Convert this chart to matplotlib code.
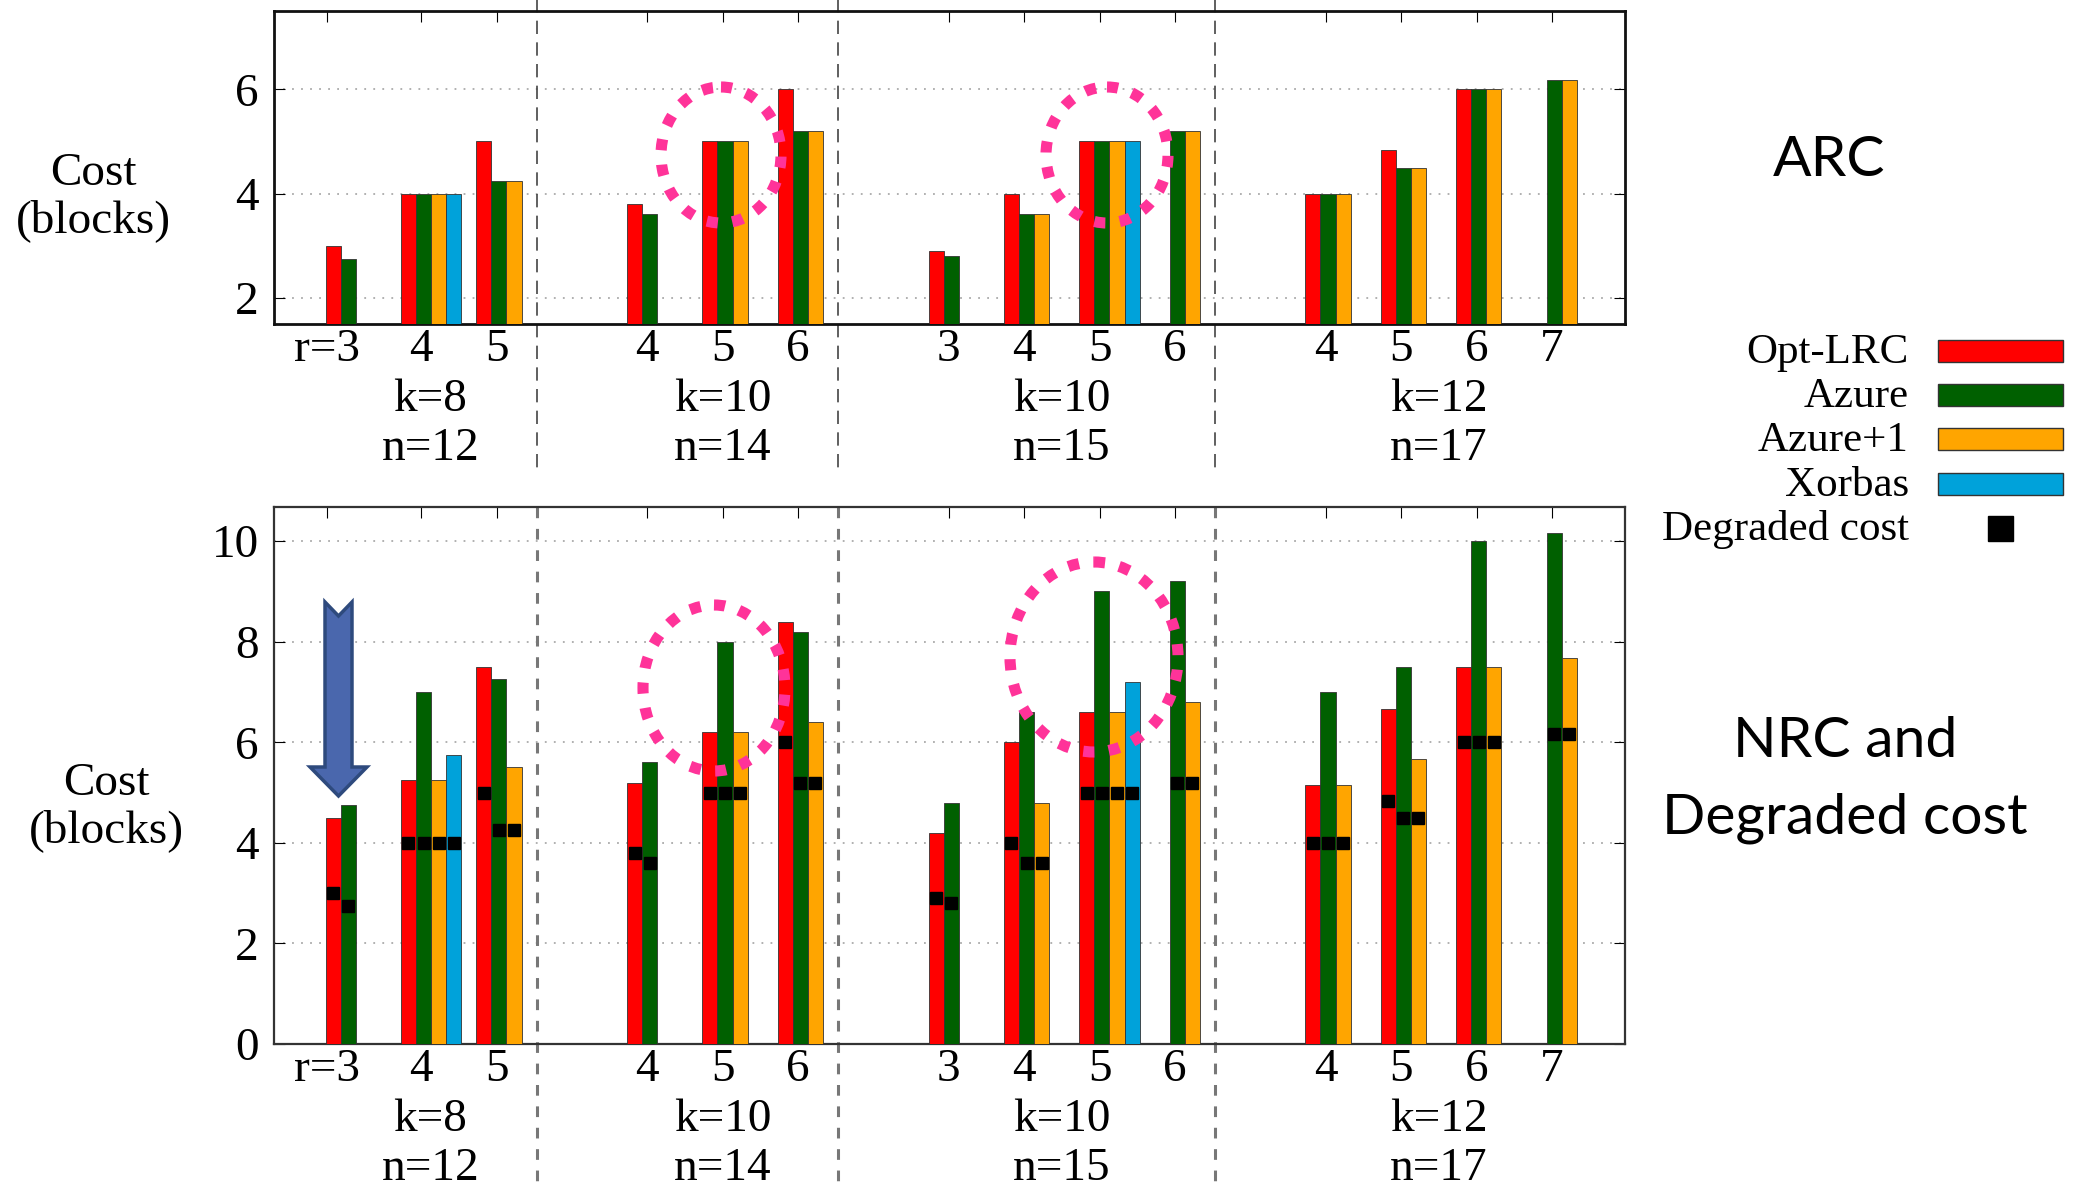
import numpy as np
import matplotlib.pyplot as plt
from matplotlib.patches import Ellipse, Polygon, Rectangle

plt.rcParams['font.family'] = ['Liberation Serif', 'DejaVu Serif']

nan = np.nan

# code groups (k, n) and the locality r values inside each group
group_k = [8, 10, 10, 12]
group_n = [12, 14, 15, 17]
group_r = [[3, 4, 5], [4, 5, 6], [3, 4, 5, 6], [4, 5, 6, 7]]

schemes = ['Opt-LRC', 'Azure', 'Azure+1', 'Xorbas']
colors = ['#ff0000', '#006000', '#ffa500', '#00a2da']

# one value per (k, n, r) config, in the order of group_r
arc_opt = [3.0, 4.0, 5.0, 3.8, 5.0, 6.0, 2.9, 4.0, 5.0, nan, 4.0, 4.83, 6.0, nan]
arc_azure = [2.75, 4.0, 4.25, 3.6, 5.0, 5.2, 2.8, 3.6, 5.0, 5.2, 4.0, 4.5, 6.0, 6.17]
arc_azure1 = [nan, 4.0, 4.25, nan, 5.0, 5.2, nan, 3.6, 5.0, 5.2, 4.0, 4.5, 6.0, 6.17]
arc_xorbas = [nan, 4.0, nan, nan, nan, nan, nan, nan, 5.0, nan, nan, nan, nan, nan]

nrc_opt = [4.5, 5.25, 7.5, 5.2, 6.2, 8.4, 4.2, 6.0, 6.6, nan, 5.15, 6.67, 7.5, nan]
nrc_azure = [4.75, 7.0, 7.25, 5.6, 8.0, 8.2, 4.8, 6.6, 9.0, 9.2, 7.0, 7.5, 10.0, 10.17]
nrc_azure1 = [nan, 5.25, 5.5, nan, 6.2, 6.4, nan, 4.8, 6.6, 6.8, 5.15, 5.67, 7.5, 7.67]
nrc_xorbas = [nan, 5.75, nan, nan, nan, nan, nan, nan, 7.2, nan, nan, nan, nan, nan]

# degraded read cost (black squares), same numbers as ARC in the figure
deg_opt = arc_opt
deg_azure = arc_azure
deg_azure1 = arc_azure1
deg_xorbas = arc_xorbas

arc = [arc_opt, arc_azure, arc_azure1, arc_xorbas]
nrc = [nrc_opt, nrc_azure, nrc_azure1, nrc_xorbas]
deg = [deg_opt, deg_azure, deg_azure1, deg_xorbas]

# slot layout: every config is a cluster of 4 slots + 1 gap, empty cluster between groups
cluster = []
first_last = []
c = 0
for rs in group_r:
    first_last.append((c, c + len(rs) - 1))
    for r in rs:
        cluster.append(c)
        c += 1
    c += 1
cluster = np.array(cluster)

tick_x = cluster * 5 + 1.35
tick_x[0] = 0.1
tick_lbl = []
for g, rs in enumerate(group_r):
    for r in rs:
        tick_lbl.append(f"r={r}" if len(tick_lbl) == 0 else str(r))

W, H = 2075, 1189
fig = plt.figure(figsize=(W / 100, H / 100), dpi=100)
ax_top = fig.add_axes([274 / W, 1 - 324 / H, 1351 / W, 313 / H])
ax_bot = fig.add_axes([274 / W, 1 - 1044 / H, 1351 / W, 537 / H])


def draw_panel(ax, series, ylim, yticks, marks=None, sep_span=(1.035, -0.45), sep_style=None):
    for s, vals in enumerate(series):
        v = np.array(vals, dtype=float)
        m = np.isfinite(v)
        x = cluster * 5 + s + 0.5
        ax.bar(x[m], v[m], width=1.0, color=colors[s], edgecolor='#333333',
               linewidth=0.6, zorder=3)
        if marks is not None:
            d = np.array(marks[s], dtype=float)
            md = np.isfinite(d)
            ax.plot(x[md], d[md], 's', color='black', ms=9, zorder=4)
    ax.set_xlim(-3.42, 86.2)
    ax.set_ylim(*ylim)
    ax.set_yticks(yticks)
    ax.set_yticklabels([str(t) for t in yticks], fontsize=34)
    ax.set_xticks(tick_x)
    ax.set_xticklabels(tick_lbl, fontsize=34)
    ax.tick_params(axis='y', direction='in', length=8, left=True, right=True, pad=11)
    ax.tick_params(axis='x', direction='in', length=8, top=True, bottom=True, pad=3)
    ax.yaxis.grid(True, linestyle=(0, (1, 4)), color='#aaaaaa', linewidth=1.3)
    ax.set_axisbelow(True)
    for g, (a, b) in enumerate(first_last):
        gx = (a + b) / 2 * 5 + 1.35 + (0.6 if g == 0 else 0)
        ax.annotate(f"k={group_k[g]}", xy=(gx, 0), xycoords=('data', 'axes fraction'),
                    xytext=(0, -87), textcoords='offset pixels', ha='center',
                    va='baseline', fontsize=34)
        ax.annotate(f"n={group_n[g]}", xy=(gx, 0), xycoords=('data', 'axes fraction'),
                    xytext=(0, -136), textcoords='offset pixels', ha='center',
                    va='baseline', fontsize=34)
        if g < len(first_last) - 1:
            sx = b * 5 + 4
            ax.plot([sx, sx], list(sep_span), transform=ax.get_xaxis_transform(),
                    clip_on=False, zorder=2, **sep_style)


draw_panel(ax_top, arc, (1.5, 7.5), [2, 4, 6], sep_span=(1.04, -0.46),
           sep_style=dict(color='#444444', lw=1.2, dashes=(8, 5)))
draw_panel(ax_bot, nrc, (0, 10.68), [0, 2, 4, 6, 8, 10], marks=deg, sep_span=(1.0, -0.3),
           sep_style=dict(color='#777777', lw=2.2, dashes=(3.5, 3.5)))
for sp in ax_top.spines.values():
    sp.set_linewidth(2.0)
    sp.set_color('#111111')
for sp in ax_bot.spines.values():
    sp.set_linewidth(1.6)
    sp.set_color('#333333')

# overlay in pixel coordinates for labels, legend and annotations
ov = fig.add_axes([0, 0, 1, 1], zorder=10)
ov.set_xlim(0, W)
ov.set_ylim(H, 0)
ov.axis('off')

ov.text(93, 185, 'Cost', ha='center', va='baseline', fontsize=34)
ov.text(93, 232, '(blocks)', ha='center', va='baseline', fontsize=34)
ov.text(106, 795, 'Cost', ha='center', va='baseline', fontsize=34)
ov.text(106, 842, '(blocks)', ha='center', va='baseline', fontsize=34)

ov.text(1829, 176, 'ARC', ha='center', va='baseline', fontsize=41, family='Lato')
ov.text(1845, 757, 'NRC and', ha='center', va='baseline', fontsize=41, family='Lato')
ov.text(1845, 833, 'Degraded cost', ha='center', va='baseline', fontsize=41, family='Lato')

# legend
row_y = [351, 395, 439, 484, 528]
for i, name in enumerate(schemes):
    ov.text(1909, row_y[i] + 12, name, ha='right', va='baseline', fontsize=31)
    ov.add_patch(Rectangle((1938, row_y[i] - 11), 125, 22, facecolor=colors[i],
                           edgecolor='#333333', lw=1))
ov.text(1909, row_y[4] + 12, 'Degraded cost', ha='right', va='baseline', fontsize=31)
ov.plot([1999.5], [row_y[4]], 's', color='black', ms=18)

# pink dotted circles
for (cx, cy, rx, ry) in [(721, 155, 60, 68), (1107, 155, 61, 68),
                         (714, 688, 71, 83), (1094, 657, 84, 95)]:
    ov.add_patch(Ellipse((cx, cy), 2 * rx, 2 * ry, fill=False, edgecolor='#ff3399',
                         lw=8, linestyle=(0, (1.0, 1.3)), capstyle='butt'))

# blue down arrow
ov.add_patch(Polygon([(325, 602), (338.5, 616), (352, 602), (352, 767), (367, 767),
                      (338.5, 796), (310, 767), (325, 767)], closed=True,
                     facecolor='#4a67ad', edgecolor='#2e4a7d', lw=2.5))

fig.savefig('out.png', dpi=100)
